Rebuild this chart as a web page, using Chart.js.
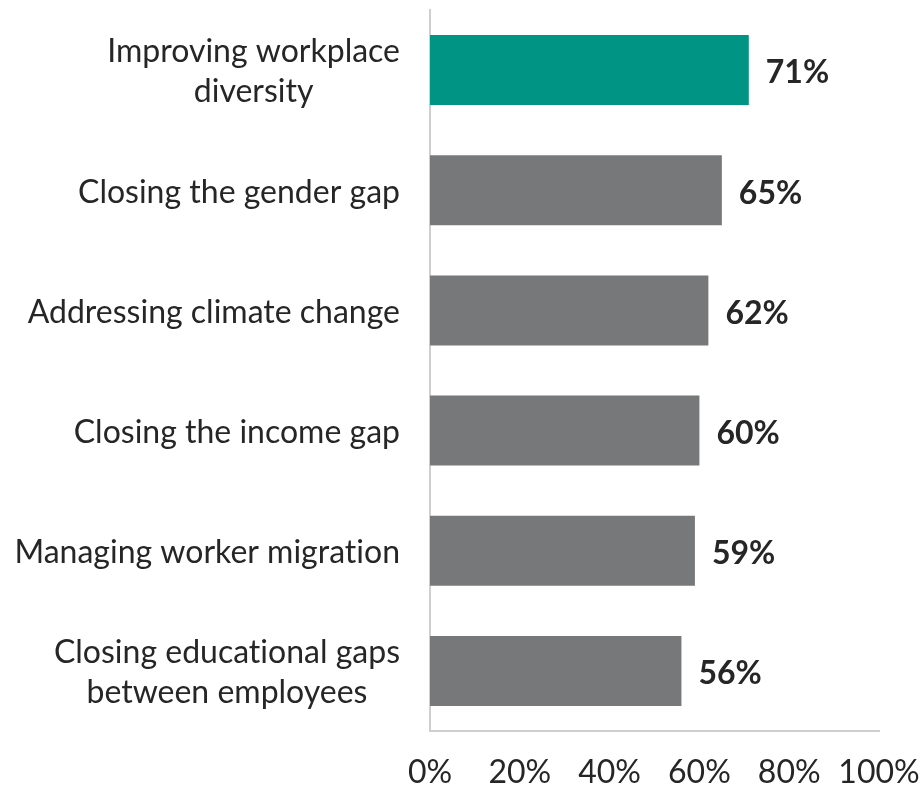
<!DOCTYPE html>
<html>
<head>
<meta charset="utf-8">
<script src="https://cdn.jsdelivr.net/npm/chart.js@4"></script>
<style>
  html, body { margin: 0; padding: 0; background: #fff; }
  #wrap { width: 922px; height: 786px; }
</style>
</head>
<body>
<div id="wrap"><canvas id="chart"></canvas></div>
<script>
// values
const categories = [
  ['Improving workplace', 'diversity'],
  ['Closing the gender gap'],
  ['Addressing climate change'],
  ['Closing the income gap'],
  ['Managing worker migration'],
  ['Closing educational gaps', 'between employees']
];
const shares = [71, 65, 62, 60, 59, 56];
const xTicks = [0, 20, 40, 60, 80, 100];

const TEAL = '#009484';
const GREY = '#77787a';
const TEXT = '#262626';
const FONT = 'Lato, "Open Sans", sans-serif';

// draws the category labels: each block right-aligned, lines centered in it
const catLabels = {
  id: 'catLabels',
  afterDraw(chart) {
    const ctx = chart.ctx;
    const y = chart.scales.y;
    ctx.save();
    ctx.font = '32px ' + FONT;
    ctx.textRendering = 'optimizeSpeed'; // no ligatures
    ctx.fillStyle = TEXT;
    ctx.textAlign = 'center';
    ctx.textBaseline = 'middle';
    const lineH = 40;
    categories.forEach((lines, i) => {
      const cy = y.getPixelForValue(i) + 2;
      let widest = 0;
      lines.forEach(l => { widest = Math.max(widest, ctx.measureText(l).width); });
      const cx = y.right - 30 - widest / 2;
      lines.forEach((l, j) => {
        ctx.fillText(l, cx, cy + (j - (lines.length - 1) / 2) * lineH);
      });
    });
    ctx.restore();
  }
};

// value labels at bar ends
const valueLabels = {
  id: 'valueLabels',
  afterDatasetsDraw(chart) {
    const ctx = chart.ctx;
    const meta = chart.getDatasetMeta(0);
    ctx.save();
    ctx.font = 'bold 32px ' + FONT;
    ctx.fillStyle = TEXT;
    ctx.textAlign = 'left';
    ctx.textBaseline = 'middle';
    meta.data.forEach((bar, i) => {
      ctx.fillText(shares[i] + '%', bar.x + 17, bar.y + 3);
    });
    ctx.restore();
  }
};

new Chart(document.getElementById('chart'), {
  type: 'bar',
  data: {
    labels: categories.map(c => c.join(' ')),
    datasets: [{
      data: shares,
      backgroundColor: shares.map((v, i) => i === 0 ? TEAL : GREY),
      barPercentage: 0.583,
      categoryPercentage: 1
    }]
  },
  options: {
    indexAxis: 'y',
    responsive: true,
    maintainAspectRatio: false,
    animation: false,
    layout: { padding: { top: 10, right: 0, bottom: 0, left: 0 } },
    plugins: { legend: { display: false }, tooltip: { enabled: false } },
    scales: {
      x: {
        min: 0, max: 100,
        afterBuildTicks: s => { s.ticks = xTicks.map(v => ({ value: v })); },
        afterFit: s => { s.height = 55; s.paddingRight = 43; s.paddingLeft = 0; },
        grid: { display: false, drawTicks: false },
        border: { display: true, color: '#cfcfcf', width: 2 },
        ticks: {
          padding: 22,
          color: TEXT,
          font: { family: FONT, size: 32 },
          maxRotation: 0,
          callback: v => v + '%'
        }
      },
      y: {
        grid: { display: false, drawTicks: false },
        border: { display: true, color: '#cfcfcf', width: 2 },
        ticks: { display: false },
        afterFit: s => { s.width = 430; }
      }
    }
  },
  plugins: [catLabels, valueLabels]
});
</script>
</body>
</html>
